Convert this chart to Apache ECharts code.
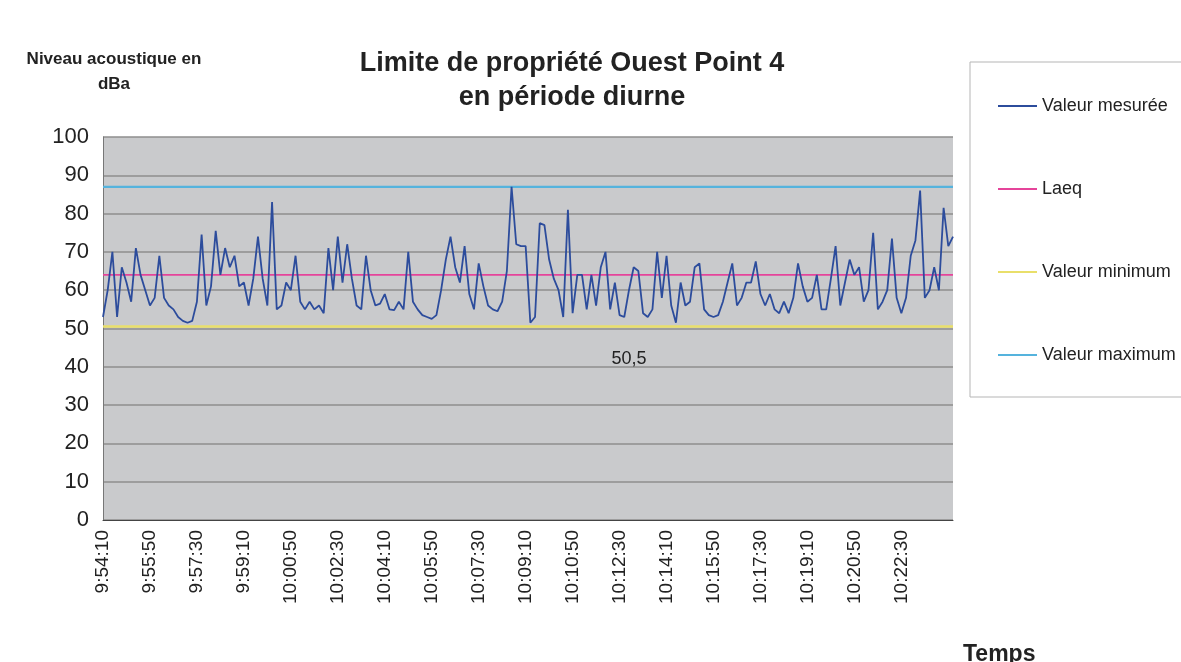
<!DOCTYPE html>
<html>
<head>
<meta charset="utf-8">
<script src="https://cdn.jsdelivr.net/npm/echarts@6/dist/echarts.min.js"></script>
<style>
  html, body { margin: 0; padding: 0; background: #ffffff; }
  #chart { width: 1181px; height: 662px; }
</style>
</head>
<body>
<div id="chart"></div>
<script>
// ---- Data ----
const startTime = '9:54:10';
const stepSeconds = 10;
const measured = [
  53, 60, 70, 53, 66, 62, 57, 71, 64, 60,
  56, 58, 69, 58, 56, 55, 53, 52, 51.5, 52,
  57, 74.5, 56, 61, 75.5, 64, 71, 66, 69, 61,
  62, 56, 63, 74, 63, 56, 83, 55, 56, 62,
  60, 69, 57, 55, 57, 55,
  56, 54, 71, 60, 74, 62, 72, 63, 56, 55,
  69, 60, 56, 56.5, 59, 55, 54.8, 57, 55, 70,
  57, 55, 53.5, 53, 52.5, 53.5, 60, 68, 74, 66,
  62, 71.5, 59, 55, 67, 61, 56, 55, 54.5, 57,
  65, 87, 72, 71.5, 71.5, 51.5,
  53, 77.5, 77, 68, 63, 60, 53, 81, 54, 64,
  64, 55, 64, 56, 66, 70, 55, 62, 53.5, 53,
  60, 66, 65, 54, 53, 55, 70, 58, 69, 56,
  51.5, 62, 56, 57, 66, 67, 55, 53.5, 53, 53.5,
  57, 62, 67, 56, 58, 62,
  62, 67.5, 59, 56, 59, 55, 54, 57, 54, 58,
  67, 61, 57, 58, 64, 55, 55, 63, 71.5, 56,
  62, 68, 64, 66, 57, 60, 75, 55, 57, 60,
  73.5, 58, 54, 58, 69, 73, 86, 58, 60, 66,
  60, 81.5, 71.5, 74
];
const laeqValue = 64;
const minValue = 50.5;
const maxValue = 87;
const minLabelText = '50,5';
const minLabelIndex = 112;
const lastLabelIndex = 170;
const seriesNames = ['Valeur mesurée', 'Laeq', 'Valeur minimum', 'Valeur maximum'];
const titleLines = ['Limite de propriété Ouest Point 4', 'en période diurne'];
const yAxisTitle = ['Niveau acoustique en', 'dBa'];
const xAxisTitle = 'Temps';

// ---- Build categories (time stamps every 10 s) ----
function buildTimes(start, step, n) {
  const p = start.split(':').map(Number);
  let t = p[0] * 3600 + p[1] * 60 + p[2];
  const out = [];
  for (let i = 0; i < n; i++) {
    const h = Math.floor(t / 3600), m = Math.floor((t % 3600) / 60), s = t % 60;
    out.push(h + ':' + String(m).padStart(2, '0') + ':' + String(s).padStart(2, '0'));
    t += step;
  }
  return out;
}
const categories = buildTimes(startTime, stepSeconds, measured.length);
const laeqData = categories.map(() => laeqValue);
const maxData = categories.map(() => maxValue);
const minData = categories.map(() => minValue);

const FONT = 'Liberation Sans, Arial, sans-serif';
const chart = echarts.init(document.getElementById('chart'), null, { renderer: 'canvas' });
chart.setOption({
  animation: false,
  backgroundColor: '#ffffff',
  textStyle: { fontFamily: FONT },
  title: [
    { text: titleLines.join('\n'), left: 567, top: 42, textAlign: 'center',
      textStyle: { fontSize: 27, fontWeight: 'bold', color: '#222', lineHeight: 34, fontFamily: FONT } },
    { text: yAxisTitle.join('\n'), left: 109, top: 42, textAlign: 'center',
      textStyle: { fontSize: 17, fontWeight: 'bold', color: '#222', lineHeight: 25, fontFamily: FONT } },
    { text: xAxisTitle, left: 958, top: 638,
      textStyle: { fontSize: 23, fontWeight: 'bold', color: '#222', fontFamily: FONT } }
  ],
  graphic: [
    { type: 'rect', z: 0, shape: { x: 970, y: 62, width: 240, height: 335 },
      style: { fill: '#ffffff', stroke: '#b5b5b5', lineWidth: 1 } }
  ],
  legend: {
    orient: 'vertical', left: 993, top: 92, itemGap: 65,
    itemWidth: 39, itemHeight: 2, icon: 'rect', itemTextGap: 3,
    textStyle: { fontSize: 18, color: '#222', fontFamily: FONT },
    data: seriesNames
  },
  grid: { left: 103, right: 228, top: 137, bottom: 142, show: true,
    backgroundColor: '#c9cacc', borderWidth: 0 },
  xAxis: {
    type: 'category', data: categories, boundaryGap: false,
    axisLine: { lineStyle: { color: '#444', width: 1 } },
    axisTick: { show: false },
    axisLabel: { interval: (i) => i % 10 === 0 && i <= lastLabelIndex,
      rotate: 90, fontSize: 19, color: '#222', margin: 10, fontFamily: FONT },
    splitLine: { show: false }
  },
  yAxis: {
    type: 'value', min: 0, max: 100, interval: 10,
    axisLine: { show: true, lineStyle: { color: '#777', width: 1 } },
    axisTick: { show: false },
    axisLabel: { fontSize: 22, color: '#222', margin: 14, fontFamily: FONT },
    splitLine: { show: true, lineStyle: { color: '#8e8e8e', width: 1.5 } }
  },
  series: [
    { name: seriesNames[0], type: 'line', data: measured, showSymbol: false, symbol: 'none',
      lineStyle: { color: '#2c4c9c', width: 1.8 }, itemStyle: { color: '#2c4c9c' }, z: 5 },
    { name: seriesNames[1], type: 'line', data: laeqData, showSymbol: false, symbol: 'none',
      lineStyle: { color: '#e5449a', width: 1.8 }, itemStyle: { color: '#e5449a' }, z: 4 },
    { name: seriesNames[2], type: 'line', data: minData, showSymbol: false, symbol: 'none',
      lineStyle: { color: '#e9df6a', width: 2.5 }, itemStyle: { color: '#e9df6a' }, z: 3,
      markPoint: {
        symbol: 'circle', symbolSize: 1, itemStyle: { color: 'rgba(0,0,0,0)' },
        label: { show: true, position: 'bottom', distance: 23, formatter: minLabelText,
          fontSize: 18, color: '#222', fontFamily: FONT },
        data: [{ coord: [minLabelIndex, minValue] }]
      } },
    { name: seriesNames[3], type: 'line', data: maxData, showSymbol: false, symbol: 'none',
      lineStyle: { color: '#55b3dd', width: 2.2 }, itemStyle: { color: '#55b3dd' }, z: 3 }
  ]
});
</script>
</body>
</html>
